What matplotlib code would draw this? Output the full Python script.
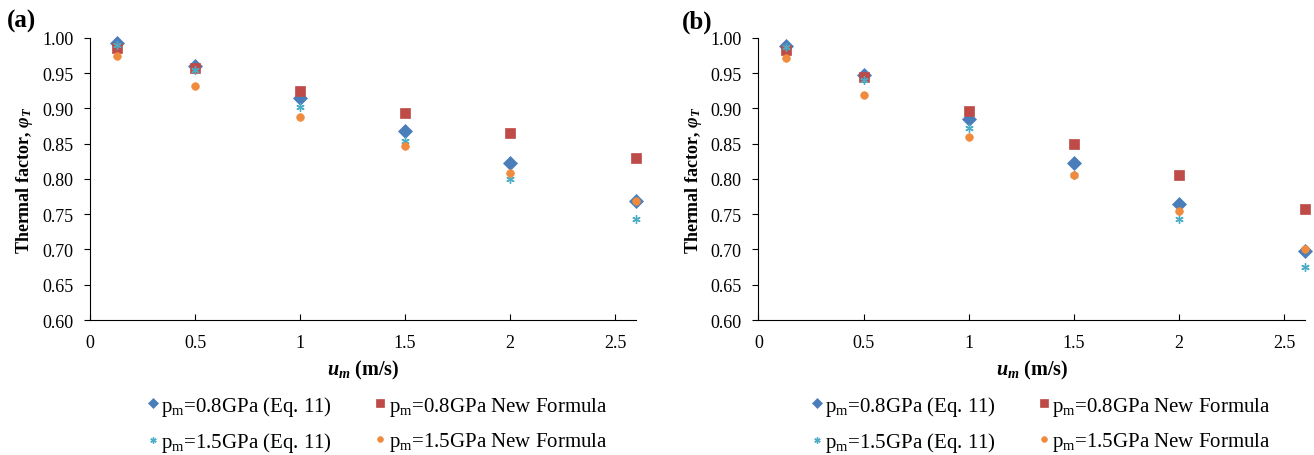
import numpy as np
import matplotlib
matplotlib.use("Agg")
import matplotlib.pyplot as plt

plt.rcParams['font.family'] = ['Liberation Serif', 'DejaVu Serif']
plt.rcParams['mathtext.fontset'] = 'custom'
plt.rcParams['mathtext.rm'] = 'Liberation Serif'
plt.rcParams['mathtext.it'] = 'Liberation Serif:italic'
plt.rcParams['mathtext.bf'] = 'Liberation Serif:bold'
plt.rcParams['mathtext.bfit'] = 'Liberation Serif:bold:italic'

# --- data ---
u_m = [0.13, 0.5, 1.0, 1.5, 2.0, 2.6]

# (a)
a_eq11_08 = [0.992, 0.960, 0.914, 0.868, 0.822, 0.768]
a_new_08 = [0.985, 0.957, 0.924, 0.894, 0.865, 0.830]
a_eq11_15 = [0.990, 0.955, 0.902, 0.853, 0.800, 0.743]
a_new_15 = [0.974, 0.932, 0.887, 0.847, 0.809, 0.768]

# (b)
b_eq11_08 = [0.989, 0.947, 0.885, 0.822, 0.764, 0.698]
b_new_08 = [0.983, 0.944, 0.896, 0.849, 0.806, 0.757]
b_eq11_15 = [0.987, 0.940, 0.872, 0.806, 0.743, 0.675]
b_new_15 = [0.971, 0.919, 0.859, 0.805, 0.754, 0.700]

labels = ['p$_\\mathrm{m}$=0.8GPa (Eq. 11)', 'p$_\\mathrm{m}$=0.8GPa New Formula',
          'p$_\\mathrm{m}$=1.5GPa (Eq. 11)', 'p$_\\mathrm{m}$=1.5GPa New Formula']
y_ticks = [0.60, 0.65, 0.70, 0.75, 0.80, 0.85, 0.90, 0.95, 1.00]
x_ticks = [0, 0.5, 1, 1.5, 2, 2.5]

styles = [
    dict(marker='D', color='#4A7EBB', ms=7),
    dict(marker='s', color='#BE4B48', ms=7.5),
    dict(marker=(6, 2, 0), color='#4BACC6', ms=6, mew=1.0),
    dict(marker='o', color='#F08A3C', ms=5.5),
]

fig = plt.figure(figsize=(13.14, 4.56), dpi=100)


def draw_panel(rect, series, tag, tag_xy, leg_center):
    ax = fig.add_axes(rect)
    handles = []
    for vals, st, lab in zip(series, styles, labels):
        h, = ax.plot(u_m, vals, linestyle='none', marker=st['marker'],
                     color=st['color'], markersize=st['ms'],
                     markeredgewidth=st.get('mew', 0.5), clip_on=False,
                     label=lab)
        handles.append(h)
    ax.set_xlim(0, 2.6)
    ax.set_ylim(0.6, 1.0)
    ax.set_xticks(x_ticks)
    ax.set_xticklabels(['0', '0.5', '1', '1.5', '2', '2.5'])
    ax.set_yticks(y_ticks)
    ax.set_yticklabels([f'{v:.2f}' for v in y_ticks])
    ax.spines['top'].set_visible(False)
    ax.spines['right'].set_visible(False)
    ax.tick_params(axis='y', direction='out', length=4, labelsize=13, pad=8)
    ax.tick_params(axis='x', direction='in', length=4, labelsize=13, pad=10)
    ax.set_ylabel('Thermal factor, $\\mathbfit{\\varphi}_{\\mathbfit{T}}$',
                  fontsize=13, fontweight='bold', labelpad=5)
    ax.set_xlabel('$\\mathbfit{u}_{\\mathbfit{m}}$ (m/s)', fontsize=14.5,
                  fontweight='bold', labelpad=5)
    fig.text(tag_xy[0], tag_xy[1], tag, fontsize=18, fontweight='bold',
             ha='left', va='center')
    order = [0, 2, 1, 3]
    ax.legend([handles[i] for i in order], [labels[i] for i in order],
              loc='center', bbox_to_anchor=leg_center,
              bbox_transform=fig.transFigure, ncol=2, frameon=False,
              fontsize=15, handlelength=0.6, handletextpad=0.1,
              columnspacing=2.0, labelspacing=0.6, markerscale=0.75)
    return ax


draw_panel([0.0685, 0.296, 0.4155, 0.619],
           [a_eq11_08, a_new_08, a_eq11_15, a_new_15],
           '(a)', (0.005, 0.952), (0.287, 0.068))
draw_panel([0.5772, 0.296, 0.4163, 0.619],
           [b_eq11_08, b_new_08, b_eq11_15, b_new_15],
           '(b)', (0.519, 0.952), (0.792, 0.068))

fig.savefig('out.png', dpi=100)
